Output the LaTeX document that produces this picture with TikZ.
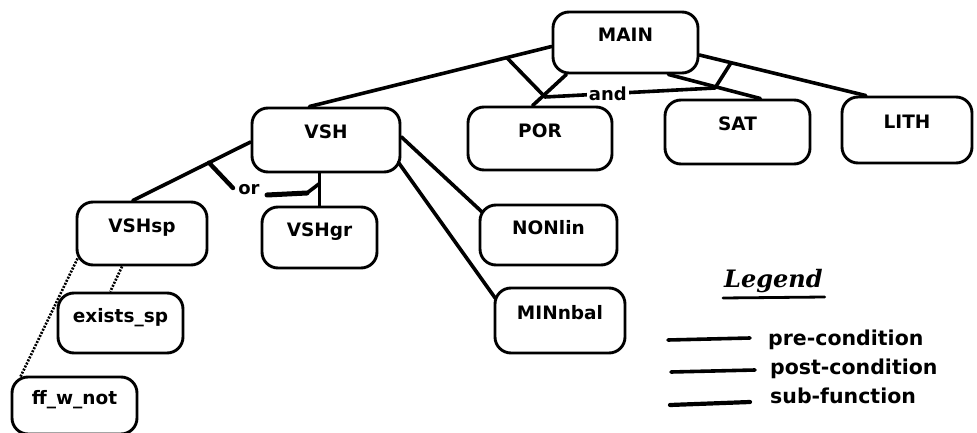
\documentclass[tikz,border=0pt]{standalone}
\usepackage{fontspec}
\setmainfont{DejaVu Sans}
\newfontfamily\legfont{DejaVu Serif}
\usetikzlibrary{calc}
\begin{document}
\begin{tikzpicture}[x=1pt,y=-1pt,
  box/.style={draw, line width=2.9pt, rounded corners=16pt, inner sep=0pt,
    font=\fontsize{18.5}{18.5}\selectfont\bfseries, text height=14pt, text depth=16pt},
  conn/.style={line width=3.6pt, line cap=round, line join=round},
  dotconn/.style={line width=2.6pt, dash pattern=on 2pt off 1.4pt},
  lbl/.style={font=\fontsize{18}{18}\selectfont\bfseries, inner sep=2pt},
  legtxt/.style={font=\fontsize{20.5}{20.5}\selectfont\bfseries, anchor=base west, inner sep=0pt}]
\useasboundingbox (0,0) rectangle (977,433);

% boxes
\node[box, minimum width=145pt, minimum height=61pt] (main) at (625.5,42.5) {MAIN\hspace{22pt}};
\node[box, minimum width=144pt, minimum height=63pt] (por) at (540,138.5) {POR\hspace{12pt}};
\node[box, minimum width=145pt, minimum height=64pt] (sat) at (737.5,132) {SAT\hspace{18pt}};
\node[box, minimum width=130pt, minimum height=66pt] (lith) at (907,130) {LITH};
\node[box, minimum width=148pt, minimum height=64pt] (vsh) at (326,140) {VSH\hspace{28pt}};
\node[box, minimum width=130pt, minimum height=63pt] (vshsp) at (142,233.5) {VSHsp\hspace{8pt}};
\node[box, minimum width=115pt, minimum height=61pt] (vshgr) at (319.5,237.5) {VSHgr};
\node[box, minimum width=137pt, minimum height=60pt] (nonlin) at (548.5,235) {NONlin\hspace{12pt}};
\node[box, minimum width=130pt, minimum height=65pt] (minnbal) at (560,320.5) {MINnbal\hspace{6pt}};
\node[box, minimum width=125pt, minimum height=60pt] (exists) at (120.5,323) {exists\_sp};
\node[box, minimum width=125pt, minimum height=57pt] (ffw) at (74.5,405.5) {ff\_w\_not};

% connectors from MAIN
\coordinate (mv1) at ([yshift=-4pt]main.west);
\coordinate (mv2) at ($(vsh.north west)!0.39!(vsh.north east)$);
\draw[conn] (mv1) -- (mv2);
\draw[conn] ($(main.south west)!0.1!(main.south east)$) -- ($(por.north west)!0.45!(por.north east)$);
\draw[conn] ($(main.south west)!0.79!(main.south east)$) -- ($(sat.north west)!0.655!(sat.north east)$);
\coordinate (ml1) at ([yshift=-12.5pt]main.east);
\coordinate (ml2) at ($(lith.north west)!0.19!(lith.north east)$);
\draw[conn] (ml1) -- (ml2);

% "and" arc
\coordinate (and1) at ($(mv1)!0.185!(mv2)$);
\coordinate (and2) at (545,97);
\coordinate (and3) at (715,88);
\coordinate (and4) at ($(ml1)!0.19!(ml2)$);
\draw[conn] (and1) -- (and2) -- node[pos=0.37, fill=white, lbl, inner sep=2pt] (andtext) {and} (and3) -- (and4);

% connectors from VSH
\coordinate (vv1) at ([yshift=-2pt]vsh.west);
\coordinate (vv2) at ($(vshsp.north west)!0.43!(vshsp.north east)$);
\draw[conn] (vv1) -- (vv2);
\coordinate (vg1) at (vshgr.north |- vsh.south);
\draw[conn] (vg1) -- (vshgr.north);
\draw[conn] ([yshift=3pt]vsh.east) -- ($(nonlin.north west)+(3,8)$);
\draw[conn] ($(vsh.south east)+(-3,-11)$) -- ($(minnbal.north west)+(2,12)$);

% "or" arc
\coordinate (or1) at ($(vv1)!0.353!(vv2)$);
\coordinate (or2) at (233,188);
\node[lbl] (ortext) at (249,190) {or};
\coordinate (or3) at (267,195);
\coordinate (or4) at (307,193);
\coordinate (or5) at ($(vshgr.north)!0.686!(vg1)$);
\draw[conn, line width=4.4pt] (or1) -- (or2);
\draw[line width=5pt, line cap=round] (or3) -- (or4);
\draw[conn] (or4) -- (or5);

% dotted connectors
\draw[dotconn] ($(vshsp.south west)!0.35!(vshsp.south east)$) -- ($(exists.north west)!0.42!(exists.north east)$);
\draw[dotconn] ($(vshsp.south west)+(2,-8)$) -- ($(ffw.north west)+(10,1)$);

% legend
\node[font=\legfont\fontsize{24}{24}\selectfont\bfseries\itshape, anchor=base west, inner sep=0pt] (legend) at (724,287) {Legend};
\draw[line width=2.8pt, line cap=round] ($(legend.base west)+(-1,11)$) -- ($(legend.base east)+(2,10)$);
\node[legtxt] (pre) at (768,345) {pre-condition};
\node[legtxt] (post) at (770,374) {post-condition};
\node[legtxt] (sub) at (770,403) {sub-function};
\draw[conn] ([shift={(-18,-7)}]pre.base west) -- ++(-82,2);
\draw[conn] ([shift={(-15,-4)}]post.base west) -- ++(-84,2);
\draw[conn, line width=4.2pt] ([shift={(-20,-1)}]sub.base west) -- ++(-80,3);
\end{tikzpicture}
\end{document}
